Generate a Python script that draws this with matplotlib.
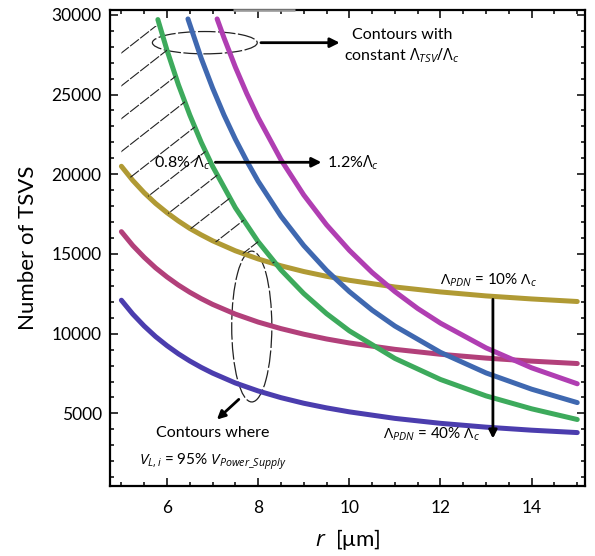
import numpy as np
import matplotlib
matplotlib.use("Agg")
import matplotlib.pyplot as plt
from matplotlib.patches import Ellipse, Polygon

plt.rcParams['font.family'] = ['Lato', 'DejaVu Sans']
plt.rcParams['mathtext.fontset'] = 'custom'
plt.rcParams['mathtext.rm'] = 'Open Sans'
plt.rcParams['mathtext.it'] = 'Open Sans:italic'
plt.rcParams['mathtext.bf'] = 'Open Sans:bold'

# ---- data ----
x_flat = [5, 5.25, 5.5, 5.75, 6, 6.25, 6.5, 6.75, 7, 7.5, 8, 8.5, 9, 9.5, 10, 11, 12, 13, 14, 15]
pdn40 = [12100, 11230, 10480, 9820, 9250, 8740, 8290, 7890, 7530, 6910, 6410, 5990, 5640,
         5350, 5100, 4690, 4380, 4140, 3950, 3800]
pdn25 = [16400, 15530, 14790, 14130, 13560, 13050, 12600, 12200, 11840, 11230, 10730, 10320,
         9970, 9670, 9420, 9020, 8710, 8470, 8280, 8130]
pdn10 = [20500, 19610, 18840, 18170, 17590, 17070, 16600, 16200, 15830, 15200, 14690, 14260,
         13900, 13600, 13350, 12930, 12620, 12370, 12180, 12020]

x_g = [5.8, 6, 6.25, 6.5, 6.75, 7, 7.5, 8, 8.5, 9, 9.5, 10, 11, 12, 13, 14, 15]
tsv08 = [29700, 27780, 25620, 23720, 22010, 20500, 17900, 15770, 14000, 12520, 11260, 10180,
         8450, 7130, 6100, 5290, 4620]
x_b = [6.46, 6.75, 7, 7.25, 7.5, 7.75, 8, 8.5, 9, 9.5, 10, 10.5, 11, 12, 13, 14, 15]
tsv10 = [29740, 27280, 25410, 23720, 22200, 20830, 19560, 17370, 15530, 13970, 12640, 11480,
         10480, 8830, 7540, 6520, 5680]
x_p = [7.1, 7.25, 7.5, 7.75, 8, 8.5, 9, 9.5, 10, 10.5, 11, 11.5, 12, 13, 14, 15]
tsv12 = [29740, 28560, 26720, 25060, 23550, 20910, 18700, 16830, 15230, 13840, 12640, 11580,
         10660, 9110, 7860, 6860]

xticks = [6, 8, 10, 12, 14]
yticks = [5000, 10000, 15000, 20000, 25000, 30000]

# ---- figure ----
fig = plt.figure(figsize=(5.95, 5.56), dpi=100)
ax = fig.add_axes([110/595, 1-486/556, 475/595, 476/556])

lw = 3.6
style = dict(lw=lw, solid_capstyle='round', solid_joinstyle='round')
ax.plot(x_flat, pdn40, color='#4B3DAE', **style)
ax.plot(x_flat, pdn25, color='#B2407A', **style)
ax.plot(x_flat, pdn10, color='#B09A34', **style)
ax.plot(x_g, tsv08, color='#3DAA5C', **style)
ax.plot(x_b, tsv10, color='#3F68B0', **style)
ax.plot(x_p, tsv12, color='#B03EB2', **style)

ax.set_xlim(4.75, 15.17)
ax.set_ylim(450, 30300)
ax.set_xticks(xticks)
ax.set_xticklabels([str(t) for t in xticks])
ax.set_yticks(yticks)
ax.set_yticklabels([str(t) for t in yticks])
ax.set_xticks(np.arange(5, 15.01, 0.5), minor=True)
ax.set_yticks(np.arange(1000, 30001, 1000), minor=True)
ax.tick_params(which='both', direction='in', top=True, right=True, width=1.1)
ax.tick_params(which='major', length=6, labelsize=12.5)
ax.tick_params(axis='x', which='major', pad=10)
ax.tick_params(axis='y', which='major', pad=6)
ax.tick_params(which='minor', length=3)
for s in ax.spines.values():
    s.set_linewidth(1.6)
# lighter segment of the top frame seen in the reference
ax.plot([(233-110)/475, (295-110)/475], [1, 1], transform=ax.transAxes, color='#999999',
        lw=1.8, clip_on=False, solid_capstyle='butt', zorder=5)

ax.set_ylabel('Number of TSVS', fontsize=16, labelpad=10)
ax.set_xlabel(r'$r$  [μm]', fontsize=16, labelpad=8)

# ---- hatched region (left of green, above olive) ----
xs = np.linspace(5.0, 8.4, 200)
upper = np.where(xs < 5.8, 29300, np.interp(xs, x_g, tsv08))
upper = np.minimum(upper, 29300)
lower = np.interp(xs, x_flat, pdn10)
m = upper > lower
verts = np.concatenate([np.column_stack([xs[m], upper[m]]),
                        np.column_stack([xs[m][::-1], lower[m][::-1]])])
clip = Polygon(verts, closed=True, transform=ax.transData, facecolor='none', edgecolor='none')
ax.add_patch(clip)
for c in np.arange(0.0, 1.2, 0.069):
    c0 = c + 0.753 - 0.069 * np.round((0.753) / 0.069)
    ln, = ax.plot([0, 1], [c0, c0 + 0.78], transform=ax.transAxes, color='#222222',
                  lw=0.8, dashes=(10, 1.5))
    ln.set_clip_path(clip)

# ---- annotations ----
ax.add_patch(Ellipse((6.83, 28250), 2.30, 1400, fill=False, ec='#222222', lw=0.9,
                     ls=(0, (14, 2))))
ax.annotate('', xy=(9.85, 28250), xytext=(8.0, 28250),
            arrowprops=dict(arrowstyle='-|>', color='black', lw=2, mutation_scale=14))
ax.text(11.15, 28750, 'Contours with', ha='center', va='center', fontsize=11.5)
ax.text(11.15, 27450, r'constant $\mathit{Λ}_{TSV}/\mathit{Λ}_c$', ha='center', va='center', fontsize=11.5)

ax.text(6.95, 20750, r'0.8% $\mathit{Λ}_c$', ha='right', va='center', fontsize=11.5)
ax.annotate('', xy=(9.45, 20750), xytext=(7.0, 20750),
            arrowprops=dict(arrowstyle='-|>', color='black', lw=2, mutation_scale=14))
ax.text(9.5, 20750, r'1.2%$\mathit{Λ}_c$', ha='left', va='center', fontsize=11.5)

ax.text(13.05, 13350, r'$\mathit{Λ}_{PDN}$ = 10% $\mathit{Λ}_c$', ha='center', va='center', fontsize=11)
ax.annotate('', xy=(13.15, 3250), xytext=(13.15, 12330),
            arrowprops=dict(arrowstyle='-|>', color='black', lw=2, mutation_scale=12))
ax.text(11.8, 3700, r'$\mathit{Λ}_{PDN}$ = 40% $\mathit{Λ}_c$', ha='center', va='center', fontsize=11)

ax.add_patch(Ellipse((7.86, 10450), 0.88, 9460, fill=False, ec='#222222', lw=0.9,
                     ls=(0, (14, 2))))
ax.annotate('', xy=(7.05, 4500), xytext=(7.62, 6000),
            arrowprops=dict(arrowstyle='-|>', color='black', lw=2, mutation_scale=12))
ax.text(7.0, 3800, 'Contours where', ha='center', va='center', fontsize=11.5)
ax.text(7.0, 2000, r'$V_{L,i}$ = 95% $V_{Power\_Supply}$', ha='center', va='center', fontsize=11)

fig.savefig('out.png', dpi=100)
